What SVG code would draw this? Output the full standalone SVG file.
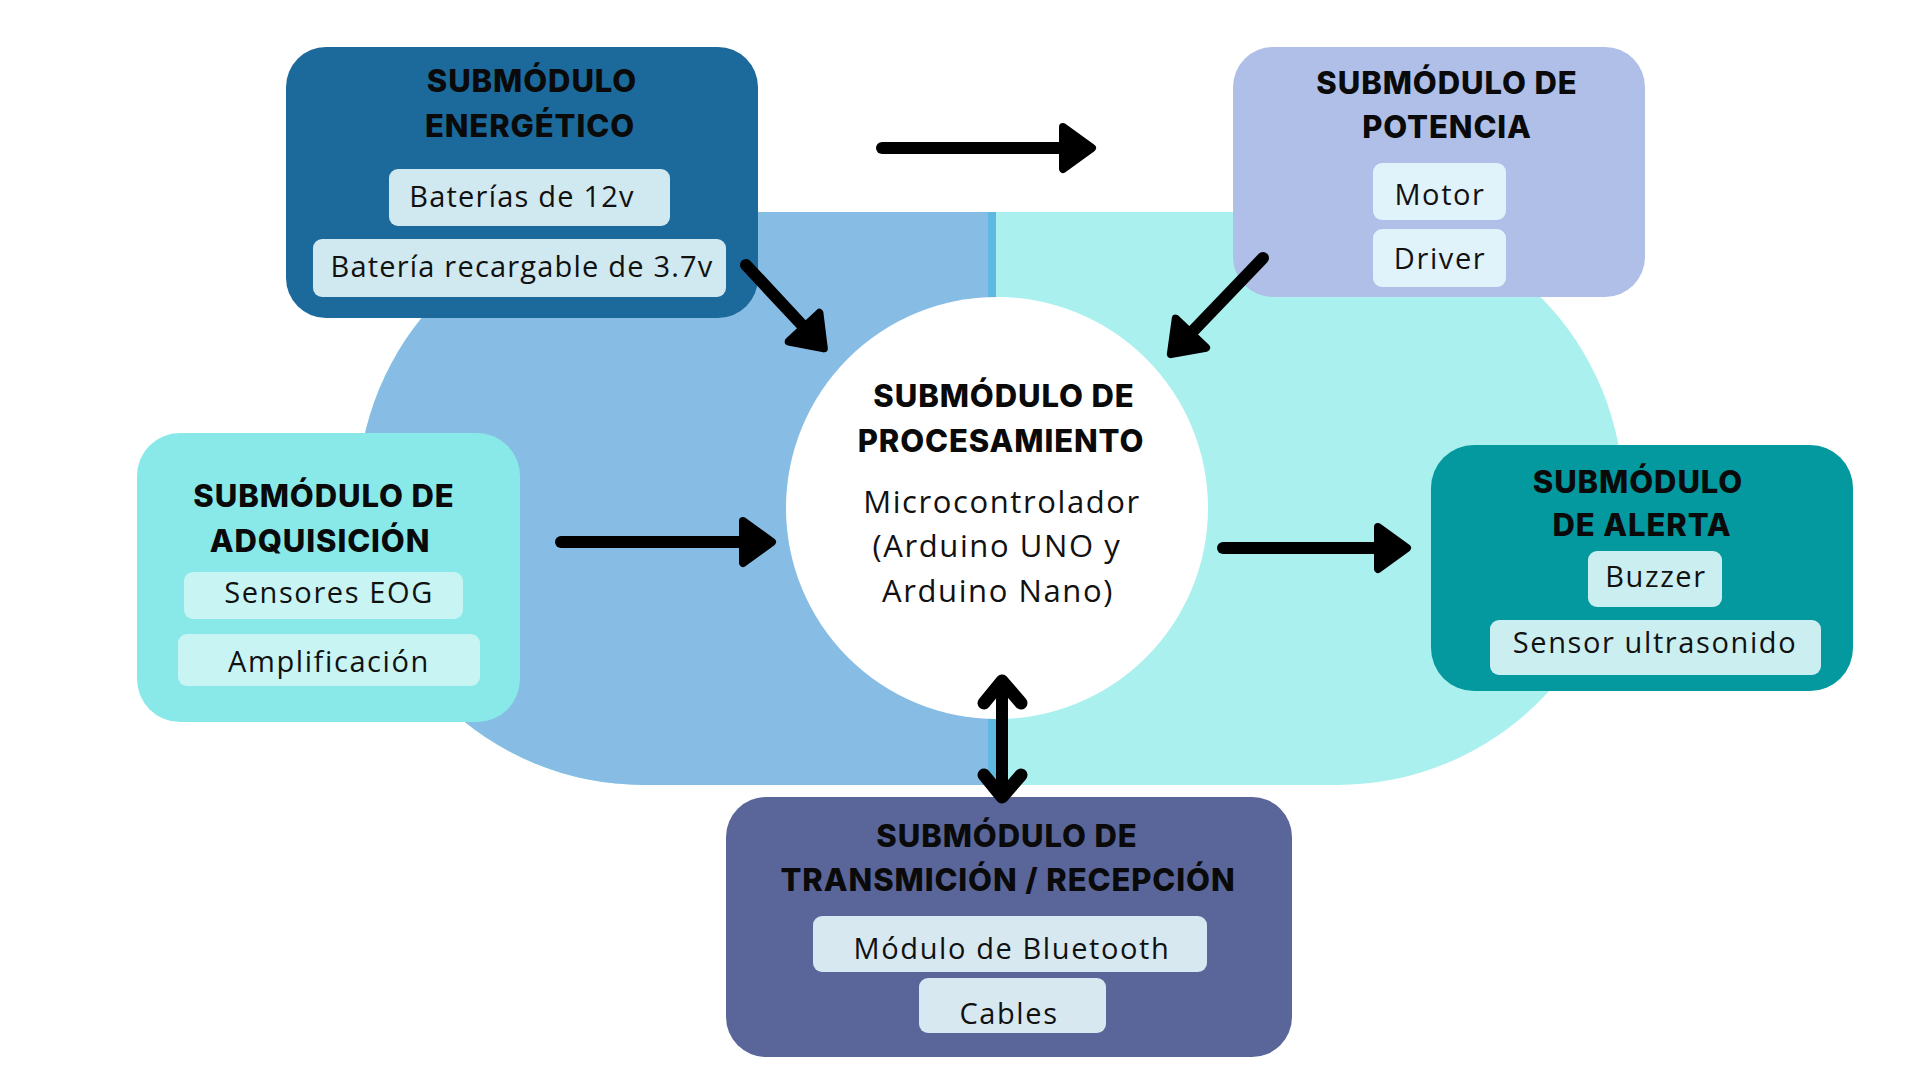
<svg xmlns="http://www.w3.org/2000/svg" width="1920" height="1080" viewBox="0 0 1920 1080">
<defs>
<style>
.t{font-family:"Inter","Liberation Sans",sans-serif;font-weight:800;font-size:31px;letter-spacing:0.9px;fill:#0a0a0a;text-anchor:middle}
.b{font-family:"Open Sans","Liberation Sans",sans-serif;font-weight:400;font-size:29px;letter-spacing:1.6px;fill:#111;text-anchor:middle}
.c{font-size:31px}
.n{letter-spacing:1.2px}
.ln{fill:none;stroke:#000;stroke-width:12;stroke-linecap:round;stroke-linejoin:round}
.ch{fill:none;stroke:#000;stroke-width:13;stroke-linecap:round;stroke-linejoin:round}
</style>
<marker id="ah" markerUnits="userSpaceOnUse" markerWidth="60" markerHeight="70" viewBox="-10 -35 60 70" refX="0" refY="0" orient="auto" overflow="visible">
<path d="M3,-21 L32,0 L3,21 Z" fill="#000" stroke="#000" stroke-width="8" stroke-linejoin="round"/>
</marker>
<clipPath id="leftHalf"><rect x="0" y="0" width="992" height="1080"/></clipPath>
</defs>
<rect width="1920" height="1080" fill="#ffffff"/>
<g id="background">
<rect x="357.5" y="212" width="1266" height="573" rx="286.5" ry="286.5" fill="#aaf0ee"/>
<rect x="357.5" y="212" width="1266" height="573" rx="286.5" ry="286.5" fill="#87bde4" clip-path="url(#leftHalf)"/>
<rect x="988" y="212" width="8" height="573" fill="#5eb8df"/>
</g>
<g id="node-procesamiento">
<circle cx="997" cy="508" r="211" fill="#ffffff"/>
<text class="t" x="1004" y="407">SUBMÓDULO DE</text>
<text class="t" x="1001" y="452">PROCESAMIENTO</text>
<text class="b c" x="1002" y="513">Microcontrolador</text>
<text class="b c" x="997" y="557">(Arduino UNO y</text>
<text class="b c" x="998" y="602">Arduino Nano)</text>
</g>
<g id="node-energetico">
<rect x="286" y="47" width="472" height="271" rx="40" fill="#1b6a9b"/>
<text class="t" x="532" y="92">SUBMÓDULO</text>
<text class="t" x="530" y="137">ENERGÉTICO</text>
<rect x="389" y="169" width="281" height="57" rx="9" fill="#d0e8f0"/>
<text class="b n" x="522" y="207">Baterías de 12v</text>
<rect x="313" y="239" width="413" height="58" rx="9" fill="#d0e8f0"/>
<text class="b n" x="522" y="277">Batería recargable de 3.7v</text>
</g>
<g id="node-potencia">
<rect x="1233" y="47" width="412" height="250" rx="40" fill="#afbfe7"/>
<text class="t" x="1447" y="94">SUBMÓDULO DE</text>
<text class="t" x="1447" y="138">POTENCIA</text>
<rect x="1373" y="163" width="133" height="57" rx="9" fill="#e1f3fa"/>
<text class="b" x="1440" y="205">Motor</text>
<rect x="1373" y="229" width="133" height="58" rx="9" fill="#e1f3fa"/>
<text class="b" x="1440" y="269">Driver</text>
</g>
<g id="node-adquisicion">
<rect x="137" y="433" width="383" height="289" rx="43" fill="#88e9e8"/>
<text class="t" x="324" y="507">SUBMÓDULO DE</text>
<text class="t" x="320" y="552">ADQUISICIÓN</text>
<rect x="184" y="572" width="279" height="47" rx="9" fill="#c8f5f4"/>
<text class="b" x="329" y="603">Sensores EOG</text>
<rect x="178" y="634" width="302" height="52" rx="9" fill="#c8f5f4"/>
<text class="b" x="329" y="672">Amplificación</text>
</g>
<g id="node-alerta">
<rect x="1431" y="445" width="422" height="246" rx="43" fill="#04989f"/>
<text class="t" x="1638" y="493">SUBMÓDULO</text>
<text class="t" x="1642" y="536">DE ALERTA</text>
<rect x="1588" y="551" width="134" height="56" rx="9" fill="#cbeff0"/>
<text class="b" x="1656" y="587">Buzzer</text>
<rect x="1490" y="620" width="331" height="55" rx="9" fill="#cbeff0"/>
<text class="b" x="1655" y="653">Sensor ultrasonido</text>
</g>
<g id="node-transmision">
<rect x="726" y="797" width="566" height="260" rx="40" fill="#5a6699"/>
<text class="t" x="1007" y="847">SUBMÓDULO DE</text>
<text class="t" x="1008" y="891">TRANSMICIÓN / RECEPCIÓN</text>
<rect x="813" y="916" width="394" height="56" rx="9" fill="#d7e8f1"/>
<text class="b" x="1012" y="959">Módulo de Bluetooth</text>
<rect x="919" y="978" width="187" height="55" rx="9" fill="#d7e8f1"/>
<text class="b" x="1009" y="1024">Cables</text>
</g>
<g id="connectors">
<line class="ln" x1="882" y1="148" x2="1060" y2="148" marker-end="url(#ah)"/>
<line class="ln" x1="746" y1="265" x2="802" y2="325" marker-end="url(#ah)"/>
<line class="ln" x1="1263" y1="258" x2="1193" y2="331" marker-end="url(#ah)"/>
<line class="ln" x1="561" y1="542" x2="740" y2="542" marker-end="url(#ah)"/>
<line class="ln" x1="1223" y1="548" x2="1375" y2="548" marker-end="url(#ah)"/>
<line class="ln" x1="1002" y1="682" x2="1002" y2="796"/>
<polyline class="ch" points="984,703 1002,681 1021,703"/>
<polyline class="ch" points="984,775 1002,797 1021,775"/>
</g>
</svg>
